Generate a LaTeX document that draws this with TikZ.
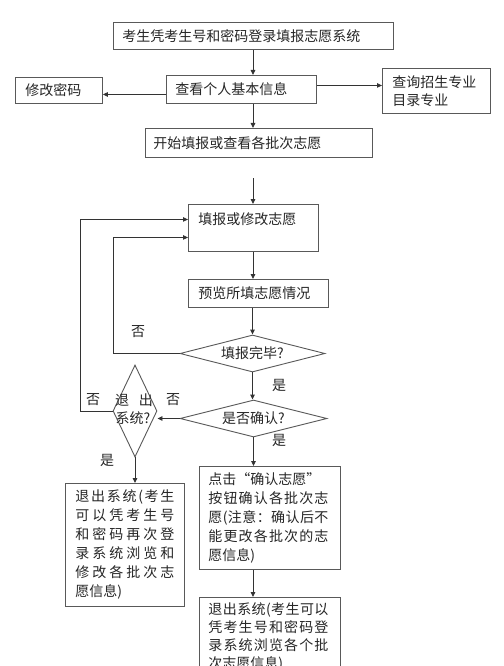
\documentclass[tikz,border=0pt]{standalone}
\usepackage{fontspec}
\newfontfamily\cjk{Noto Sans CJK SC}
\usetikzlibrary{arrows.meta,shapes.geometric}
\begin{document}
\begin{tikzpicture}[x=1pt,y=-1pt,
  every node/.style={font=\cjk\fontsize{14pt}{19pt}\selectfont, text=black!85},
  box/.style={draw=black!65, line width=0.9pt, anchor=north west, inner ysep=0pt, align=left},
  dia/.style={diamond, draw=black!65, line width=0.9pt, inner sep=0pt},
  arr/.style={draw=black!80, line width=0.9pt, -{Triangle[length=5pt,width=4.5pt]}},
  lbl/.style={inner sep=0pt}]
\useasboundingbox (0,0) rectangle (503,666);
\clip (0,0) rectangle (503,666);
\fill[white] (0,0) rectangle (503,666);

\coordinate (spine) at (253,0);
\coordinate (lp1) at (80,0);
\coordinate (lp2) at (113,0);
\coordinate (gap) at (253,178);

\node[box, text width=262pt, inner xsep=9pt, minimum height=27pt] (login) at (113,22) {考生凭考生号和密码登录填报志愿系统};
\node[box, text width=132pt, inner xsep=9pt, minimum height=28pt] (info) at (166,75) {查看个人基本信息};
\node[box, text width=67pt, inner xsep=10pt, minimum height=26pt] (pwd) at (15,77) {修改密码};
\node[box, text width=88pt, inner xsep=10pt, minimum height=45pt] (query) at (382,68) {查询招生专业\\[-1pt]目录专业};
\node[box, text width=211pt, inner xsep=8pt, minimum height=29pt] (start) at (145,128) {开始填报或查看各批次志愿};
\node[box, text width=110pt, inner xsep=10pt, text height=20pt, text depth=27pt] (fill) at (188,204) {填报或修改志愿};
\node[box, text width=120pt, inner xsep=10pt, minimum height=28pt] (prev) at (188,279) {预览所填志愿情况};

\node[dia, aspect=3.9, minimum width=145pt, minimum height=37pt] (done) at (252.5,353.5) {填报完毕?};
\node[dia, aspect=3.9, minimum width=147pt, minimum height=37pt] (conf) at (253.5,418.5) {是否确认?};
\node[dia, minimum width=44pt, minimum height=92pt] (quit) at (135,411) {};
\node[lbl] (quitt1) at (134,400) {退\hspace{10pt}出};
\node[lbl] (quitt2) at (133,418) {系统?};

\node[lbl] (no1) at (138,332) {否};
\node[lbl] (no2) at (93,400) {否};
\node[lbl] (no3) at (173,400) {否};
\node[lbl] (yes1) at (279,385) {是};
\node[lbl] (yes2) at (279,440) {是};
\node[lbl] (yes3) at (107,460) {是};

\node[box, text width=99pt, inner xsep=10pt, minimum height=123pt] (exitA) at (65,483) {%
\makebox[99pt][s]{退\hfill 出\hfill 系\hfill 统\hfill (\hfill 考\hfill 生}\\
\makebox[99pt][s]{可\hfill 以\hfill 凭\hfill 考\hfill 生\hfill 号}\\
\makebox[99pt][s]{和\hfill 密\hfill 码\hfill 再\hfill 次\hfill 登}\\
\makebox[99pt][s]{录\hfill 系\hfill 统\hfill 浏\hfill 览\hfill 和}\\
\makebox[99pt][s]{修\hfill 改\hfill 各\hfill 批\hfill 次\hfill 志}\\
愿信息)};

\node[box, text width=123pt, inner xsep=9pt, minimum height=103pt] (confirmbox) at (199,466) {%
点击“确认志愿”\\
\makebox[120pt][s]{按\hfill 钮\hfill 确\hfill 认\hfill 各\hfill 批\hfill 次\hfill 志}\\
\makebox[120pt][s]{愿\hfill (\hfill 注\hfill 意\hfill ：\hfill 确\hfill 认\hfill 后\hfill 不}\\
\makebox[120pt][s]{能\hfill 更\hfill 改\hfill 各\hfill 批\hfill 次\hfill 的\hfill 志}\\
愿信息)};

\node[box, text width=123pt, inner xsep=9pt, minimum height=79pt] (quitB) at (199,597) {%
\makebox[120pt][s]{退\hfill 出\hfill 系\hfill 统\hfill (\hfill 考\hfill 生\hfill 可\hfill 以}\\[-1pt]
\makebox[120pt][s]{凭\hfill 考\hfill 生\hfill 号\hfill 和\hfill 密\hfill 码\hfill 登}\\[-1pt]
\makebox[120pt][s]{录\hfill 系\hfill 统\hfill 浏\hfill 览\hfill 各\hfill 个\hfill 批}\\[-1pt]
次志愿信息)};

\draw[arr] (login.south -| spine) -- (info.north -| spine);
\draw[arr] (info.south -| spine) -- (start.north -| spine);
\draw[arr] ([yshift=-5pt]info.west) -- ([yshift=-5pt]info.west -| pwd.east);
\draw[arr] ([yshift=4pt]info.east) -- ([yshift=4pt]info.east -| query.west);
\draw[arr] (gap) -- (fill.north -| spine);
\draw[arr] (fill.south -| spine) -- (prev.north -| spine);
\draw[arr] (prev.south -| done.north) -- (done.north);
\draw[arr] (done.south) -- (done.south |- conf.north);
\draw[arr] (conf.south) -- (conf.south |- confirmbox.north);
\draw[arr] (confirmbox.south -| spine) -- (quitB.north -| spine);
\draw[arr] (done.west) -- (done.west -| lp2) |- ([yshift=-9.5pt]fill.west);
\draw[arr] (conf.west) -- (conf.west -| quit.east);
\draw[arr] (quit.west) -- (quit.west -| lp1) |- ([yshift=8.5pt]fill.west);
\draw[arr] (quit.south) -- (quit.south |- exitA.north);
\end{tikzpicture}
\end{document}
